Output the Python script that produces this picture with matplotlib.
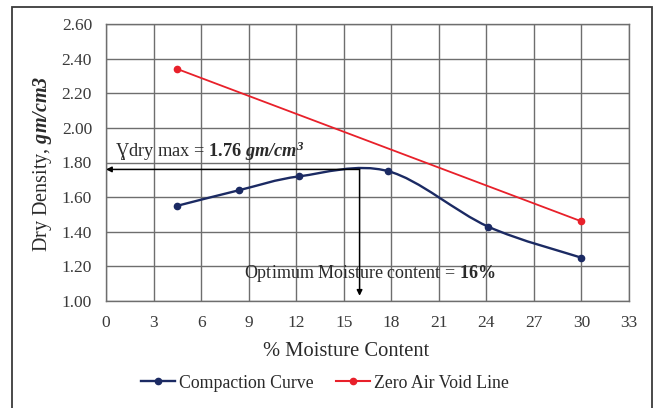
import numpy as np
import matplotlib
matplotlib.use("Agg")
import matplotlib.pyplot as plt
from matplotlib.path import Path
from matplotlib.patches import PathPatch, Rectangle
from matplotlib.lines import Line2D

plt.rcParams['font.family'] = ['Liberation Serif', 'DejaVu Serif']
plt.rcParams['mathtext.fontset'] = 'custom'
plt.rcParams['mathtext.rm'] = 'Liberation Serif'
plt.rcParams['mathtext.it'] = 'Liberation Serif:italic'
plt.rcParams['mathtext.bf'] = 'Liberation Serif:bold'
plt.rcParams['mathtext.bfit'] = 'Liberation Serif:bold:italic'

# data
moisture = [4.5, 8.4, 12.2, 17.8, 24.1, 30.0]
dry_density = [1.55, 1.64, 1.72, 1.75, 1.43, 1.25]
zav_moisture = [4.5, 30.0]
zav_density = [2.34, 1.46]
omc = 16
mdd = 1.76
x_ticks = list(range(0, 34, 3))
y_ticks = [1.0, 1.2, 1.4, 1.6, 1.8, 2.0, 2.2, 2.4, 2.6]

blue = '#1b2a63'
red = '#e8202a'
grid_col = '#6e6e6e'
txt_col = '#2a2a2a'


def smooth_path(xs, ys):
    # excel style smoothed line: cubic bezier through the points
    pts = np.column_stack([xs, ys]).astype(float)
    n = len(pts)
    verts = [pts[0]]
    codes = [Path.MOVETO]
    for i in range(n - 1):
        p0 = pts[max(i - 1, 0)]
        p1 = pts[i]
        p2 = pts[i + 1]
        p3 = pts[min(i + 2, n - 1)]
        verts += [p1 + (p2 - p0) / 6, p2 - (p3 - p1) / 6, p2]
        codes += [Path.CURVE4] * 3
    return Path(verts, codes)


fig = plt.figure(figsize=(6.56, 4.08), dpi=100)
ax = fig.add_axes([106 / 656, 1 - 301 / 408, 523 / 656, 277 / 408])

# outer frame around the chart
fig.patches.append(Rectangle((12 / 656, -0.02), 640 / 656, 1.02 - 7 / 408,
                             transform=fig.transFigure, fill=False,
                             edgecolor='#3a3a3a', lw=1.3, clip_on=False))

ax.add_patch(PathPatch(smooth_path(moisture, dry_density), fill=False,
                       edgecolor=blue, lw=1.7, zorder=3))
ax.plot(moisture, dry_density, 'o', color=blue, ms=4.5, zorder=4)
ax.plot(zav_moisture, zav_density, '-o', color=red, lw=1.3, ms=4.5, zorder=3)

# max dry density and optimum moisture arrows
ax.annotate('', xy=(0, mdd), xytext=(omc, mdd),
            arrowprops=dict(arrowstyle='-|>', color='black', lw=1.1,
                            mutation_scale=8, shrinkA=0, shrinkB=0), zorder=5)
ax.annotate('', xy=(omc, 1.03), xytext=(omc, mdd),
            arrowprops=dict(arrowstyle='-|>', color='black', lw=1.1,
                            mutation_scale=8, shrinkA=0, shrinkB=0), zorder=5)

ax.text(0.55, 1.865, r'Ɣdry max = $\mathbf{1.76}\ \mathbfit{gm/cm^3}$',
        fontsize=13.2, va='center', ha='left', color=txt_col, zorder=6)
ax.text(8.7, 1.16, r'Optimum Moisture content = $\mathbf{16\%}$',
        fontsize=13, va='center', ha='left', color=txt_col, zorder=6)

ax.set_xlim(0, 33)
ax.set_ylim(1.0, 2.6)
ax.set_xticks(x_ticks)
ax.set_yticks(y_ticks)
ax.set_yticklabels(['%.2f' % v for v in y_ticks])
ax.tick_params(length=0, labelsize=12.5, colors='#3a3a3a')
ax.tick_params(axis='y', pad=10)
ax.tick_params(axis='x', pad=10)
ax.grid(True, color=grid_col, lw=1)
ax.set_axisbelow(True)
for s in ax.spines.values():
    s.set_color(grid_col)
    s.set_linewidth(1)

fig.text(43 / 656, 1 - 164 / 408, r'Dry Density, $\mathbfit{gm/cm3}$',
         rotation=90, ha='center', va='center', fontsize=14.5, color=txt_col)
fig.text(346 / 656, 1 - 352 / 408, '% Moisture Content',
         ha='center', va='center', fontsize=14.8, color=txt_col)

handles = [Line2D([], [], color=blue, marker='o', ms=4.5, lw=1.7),
           Line2D([], [], color=red, marker='o', ms=4.5, lw=1.5)]
fig.legend(handles, ['Compaction Curve', 'Zero Air Void Line'],
           loc='center', bbox_to_anchor=(325 / 656, 1 - 383 / 408), ncol=2,
           frameon=False, fontsize=12.8, handlelength=1.9, handletextpad=0.2,
           columnspacing=1.3, labelcolor=txt_col)

fig.savefig('out.png', dpi=100)
